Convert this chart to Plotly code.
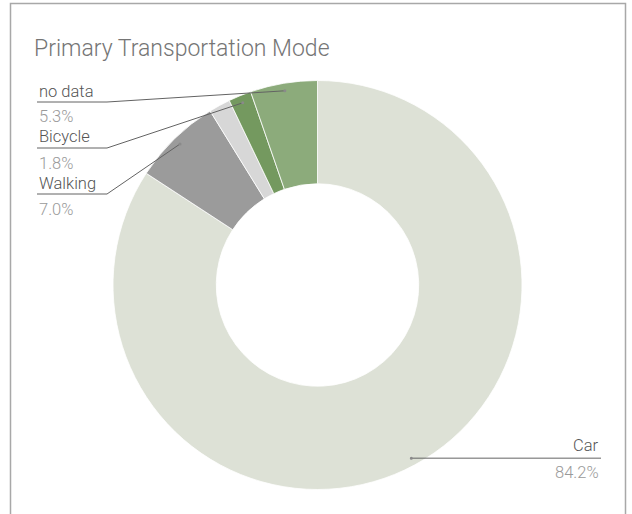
import numpy as np
import plotly.graph_objects as go

# ---- data ----
labels = ["Car", "Walking", "Other", "Bicycle", "no data"]
values = [84.2, 7.0, 1.7, 1.8, 5.3]
pct_labels = ["84.2%", "7.0%", "", "1.8%", "5.3%"]
left_labels = ["no data", "Bicycle", "Walking"]
right_labels = ["Car"]
title_text = "Primary Transportation Mode"

# ---- style ----
colors = ["#dde1d6", "#9b9b9b", "#d7d7d7", "#74995f", "#8cab7b"]
W, H = 632, 514
CX, CY, R = 317.5, 285.0, 204.5
HOLE = 0.495
FONT = "Roboto"
NAME_COLOR = "#555555"
PCT_COLOR = "#9a9a9a"
LINE_COLOR = "#636363"


def px(x):
    return x / W


def py(y):
    return 1 - y / H


fig = go.Figure(
    go.Pie(
        labels=labels,
        values=values,
        hole=HOLE,
        sort=False,
        direction="clockwise",
        rotation=0,
        marker=dict(colors=colors, line=dict(color="white", width=0.8)),
        textinfo="none",
        hoverinfo="label+percent",
        showlegend=False,
        domain=dict(x=[px(CX - R), px(CX + R)], y=[py(CY + R), py(CY - R)]),
    )
)

# anchor points computed from the data
total = float(sum(values))
cum = np.cumsum([0.0] + values)
anchors = {}
for i, lab in enumerate(labels):
    mid = (cum[i] + cum[i + 1]) / 2 / total
    th = 2 * np.pi * mid
    anchors[lab] = (CX + 0.963 * R * np.sin(th), CY - 0.963 * R * np.cos(th))

shapes = []
annotations = []
pct_of = dict(zip(labels, pct_labels))

# left labels
LX, LEND, Y0, STEP = 37, 107, 91, 46
for k, lab in enumerate(left_labels):
    ny = Y0 + k * STEP
    ly = ny + 11
    ax, ay = anchors[lab]
    shapes.append(dict(type="line", xref="paper", yref="paper", x0=px(LX), y0=py(ly),
                       x1=px(LEND), y1=py(ly), line=dict(color=LINE_COLOR, width=1)))
    shapes.append(dict(type="line", xref="paper", yref="paper", x0=px(LEND), y0=py(ly),
                       x1=px(ax), y1=py(ay), line=dict(color=LINE_COLOR, width=1)))
    shapes.append(dict(type="circle", xref="paper", yref="paper", x0=px(ax - 1.5), y0=py(ay - 1.5),
                       x1=px(ax + 1.5), y1=py(ay + 1.5), line=dict(width=0), fillcolor="#8a8a8a"))
    annotations.append(dict(x=px(LX), y=py(ny), xref="paper", yref="paper", text=lab,
                            showarrow=False, xanchor="left", yanchor="middle",
                            font=dict(family=FONT, size=16.5, color=NAME_COLOR, weight=300)))
    annotations.append(dict(x=px(LX), y=py(ny + 26), xref="paper", yref="paper", text=pct_of[lab],
                            showarrow=False, xanchor="left", yanchor="middle",
                            font=dict(family=FONT, size=16.5, color=PCT_COLOR, weight=300)))

# right labels
RX = 601
for lab in right_labels:
    ax, ay = anchors[lab]
    shapes.append(dict(type="line", xref="paper", yref="paper", x0=px(ax), y0=py(ay),
                       x1=px(RX), y1=py(ay), line=dict(color=LINE_COLOR, width=1)))
    shapes.append(dict(type="circle", xref="paper", yref="paper", x0=px(ax - 1.5), y0=py(ay - 1.5),
                       x1=px(ax + 1.5), y1=py(ay + 1.5), line=dict(width=0), fillcolor="#8a8a8a"))
    annotations.append(dict(x=px(RX), y=py(ay - 13), xref="paper", yref="paper", text=lab,
                            showarrow=False, xanchor="right", yanchor="middle",
                            font=dict(family=FONT, size=16.5, color=NAME_COLOR, weight=300)))
    annotations.append(dict(x=px(RX), y=py(ay + 14), xref="paper", yref="paper", text=pct_of[lab],
                            showarrow=False, xanchor="right", yanchor="middle",
                            font=dict(family=FONT, size=16.5, color=PCT_COLOR, weight=300)))

# card border
shapes.append(dict(type="rect", xref="paper", yref="paper", x0=px(10.5), x1=px(625.5),
                   y0=py(3.5), y1=py(540), line=dict(color="#a8a8a8", width=1.5), layer="below"))

# title
annotations.append(dict(x=px(32), y=py(48), xref="paper", yref="paper", text=title_text,
                        showarrow=False, xanchor="left", yanchor="middle",
                        font=dict(family=FONT, size=23, color="#757575", weight=300)))

fig.update_layout(
    width=W, height=H,
    margin=dict(l=0, r=0, t=0, b=0),
    paper_bgcolor="white", plot_bgcolor="white",
    shapes=shapes, annotations=annotations,
)

fig.write_html("out.html")
